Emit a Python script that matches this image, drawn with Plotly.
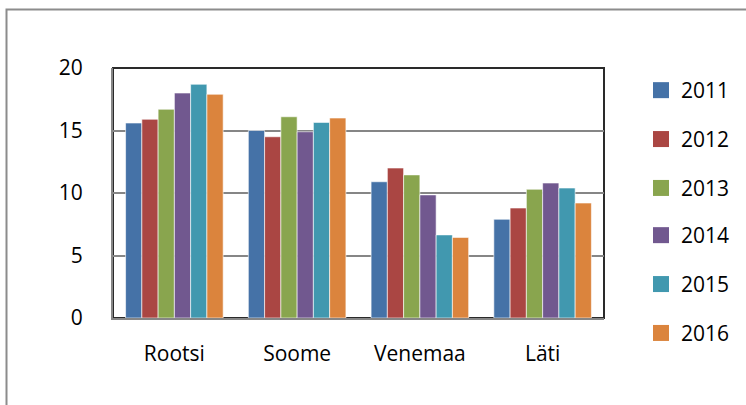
import plotly.graph_objects as go

categories = ["Rootsi", "Soome", "Venemaa", "Läti"]
years = ["2011", "2012", "2013", "2014", "2015", "2016"]
values = {
    "2011": [15.6, 15.0, 10.9, 7.9],
    "2012": [15.9, 14.5, 12.0, 8.8],
    "2013": [16.7, 16.1, 11.45, 10.3],
    "2014": [18.0, 14.9, 9.85, 10.8],
    "2015": [18.7, 15.65, 6.65, 10.4],
    "2016": [17.9, 16.0, 6.45, 9.2],
}
colors = ["#4572A7", "#AA4643", "#89A54E", "#71588F", "#4198AF", "#DB843D"]
y_ticks = [0, 5, 10, 15, 20]

FONT = "Open Sans"

fig = go.Figure()
for yr, col in zip(years, colors):
    fig.add_trace(go.Bar(
        x=categories, y=values[yr], name=yr,
        marker=dict(color=col, line=dict(color="rgba(255,255,255,0.6)", width=1)),
        legendgroup=yr, showlegend=False,
    ))
# legend entries with larger square swatches (split over two legend boxes)
for i, (yr, col) in enumerate(zip(years, colors)):
    fig.add_trace(go.Scatter(
        x=[None], y=[None], name=yr, mode="markers",
        marker=dict(symbol="square", size=16, color=col),
        legendgroup=yr, showlegend=True, hoverinfo="skip",
        legend="legend" if i < 3 else "legend2",
    ))

L, R, T, B = 113, 142, 68, 87
W, H = 746, 405
pw, ph = W - L - R, H - T - B

GAP = 18.6
leg_common = dict(xref="container", yref="container", x=641 / W, xanchor="left",
                  yanchor="top", tracegroupgap=GAP, font=dict(size=21),
                  bgcolor="rgba(0,0,0,0)", itemsizing="trace")

fig.update_layout(
    width=W, height=H,
    margin=dict(l=L, r=R, t=T, b=B),
    paper_bgcolor="white", plot_bgcolor="white",
    barmode="group", bargap=0.205, bargroupgap=0,
    font=dict(family=FONT, size=21, color="black"),
    showlegend=True,
    legend=dict(y=1.0 - 70 / H, **leg_common),
    legend2=dict(y=1.0 - 215 / H, **leg_common),
    xaxis=dict(showgrid=False, showline=True, linecolor="#868686", linewidth=2,
               ticks="", ticklabelstandoff=16, mirror=False),
    yaxis=dict(range=[0, 20], tickvals=y_ticks, showgrid=True, gridcolor="#868686",
               gridwidth=2, showline=True, linecolor="#868686", linewidth=2,
               ticks="", ticklabelstandoff=24, zeroline=False),
)

# plot area border (top/right dark)
fig.add_shape(type="rect", xref="paper", yref="paper", x0=0, y0=0, x1=1, y1=1,
              line=dict(color="#2a2a2a", width=2), layer="below")
# outer chart border (partially visible)
fig.add_shape(type="rect", xref="paper", yref="paper",
              x0=(6.5 - L) / pw, y0=-2, x1=3, y1=1 + (T - 9.5) / ph,
              line=dict(color="#8c8c8c", width=2))

fig.write_html("out.html", config={"displayModeBar": False})

with open("out.html", "r", encoding="utf-8") as f:
    html = f.read()
html = html.replace("<head>", "<head><style>html,body{margin:0;padding:0;overflow:hidden;}</style>", 1)
with open("out.html", "w", encoding="utf-8") as f:
    f.write(html)
